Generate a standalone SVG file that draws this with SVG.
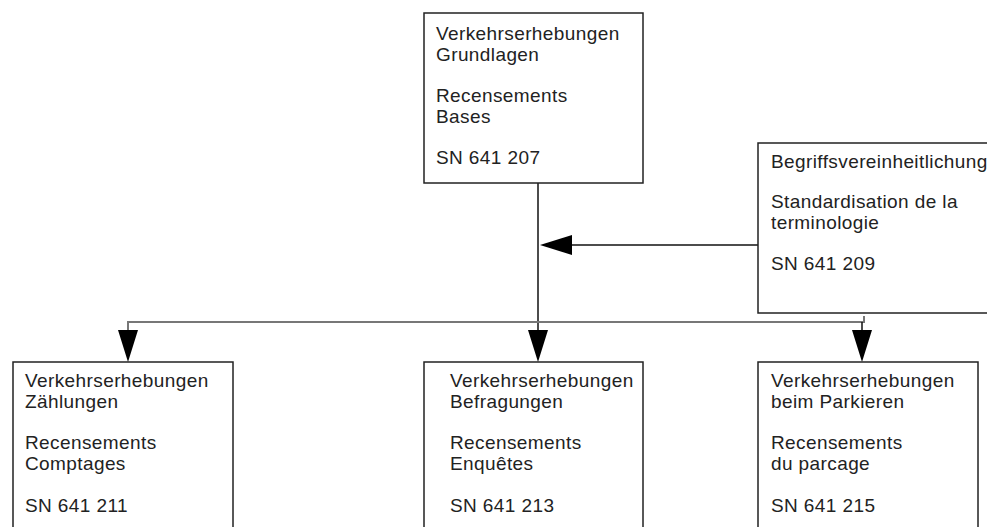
<svg xmlns="http://www.w3.org/2000/svg" width="987" height="527" viewBox="0 0 987 527">
<style>
.box{fill:#fff;stroke:#222;stroke-width:1.5}
text{font-family:"Liberation Sans",Arial,sans-serif;font-size:19px;letter-spacing:0.4px;fill:#222}
.ln{stroke:#111;stroke-width:1.5;fill:none}
.gl{stroke:#777;stroke-width:2;fill:none}
.ah{fill:#000}
</style>
<rect width="987" height="527" fill="#fff"/>
<g id="connectors">
<line class="ln" x1="538" y1="183" x2="538" y2="330"/>
<polygon class="ah" points="528,330 548,330 538,362"/>
<line class="ln" x1="572" y1="245" x2="758" y2="245"/>
<polygon class="ah" points="540,245 572,235 572,255"/>
<path class="gl" d="M128,330 V322 H864 V316"/>
<polygon class="ah" points="118,330 138,330 128,362"/>
<line class="ln" x1="862" y1="322" x2="862" y2="330"/>
<polygon class="ah" points="852,330 872,330 862,362"/>
</g>
<g id="n_top">
<rect class="box" x="424" y="13" width="219" height="170"/>
<text x="436" y="40">Verkehrserhebungen</text>
<text x="436" y="61">Grundlagen</text>
<text x="436" y="102">Recensements</text>
<text x="436" y="123">Bases</text>
<text x="436" y="164">SN 641 207</text>
</g>
<g id="n_begriff">
<rect class="box" x="758" y="143" width="260" height="170"/>
<text x="771" y="168">Begriffsvereinheitlichung</text>
<text x="771" y="208">Standardisation de la</text>
<text x="771" y="229">terminologie</text>
<text x="771" y="270">SN 641 209</text>
</g>
<g id="n_zaehl">
<rect class="box" x="13" y="362" width="220" height="200"/>
<text x="25" y="387">Verkehrserhebungen</text>
<text x="25" y="408">Zählungen</text>
<text x="25" y="449">Recensements</text>
<text x="25" y="470">Comptages</text>
<text x="25" y="512">SN 641 211</text>
</g>
<g id="n_befr">
<rect class="box" x="424" y="362" width="219" height="200"/>
<text x="450" y="387">Verkehrserhebungen</text>
<text x="450" y="408">Befragungen</text>
<text x="450" y="449">Recensements</text>
<text x="450" y="470">Enquêtes</text>
<text x="450" y="512">SN 641 213</text>
</g>
<g id="n_park">
<rect class="box" x="758" y="362" width="220" height="200"/>
<text x="771" y="387">Verkehrserhebungen</text>
<text x="771" y="408">beim Parkieren</text>
<text x="771" y="449">Recensements</text>
<text x="771" y="470">du parcage</text>
<text x="771" y="512">SN 641 215</text>
</g>
</svg>
